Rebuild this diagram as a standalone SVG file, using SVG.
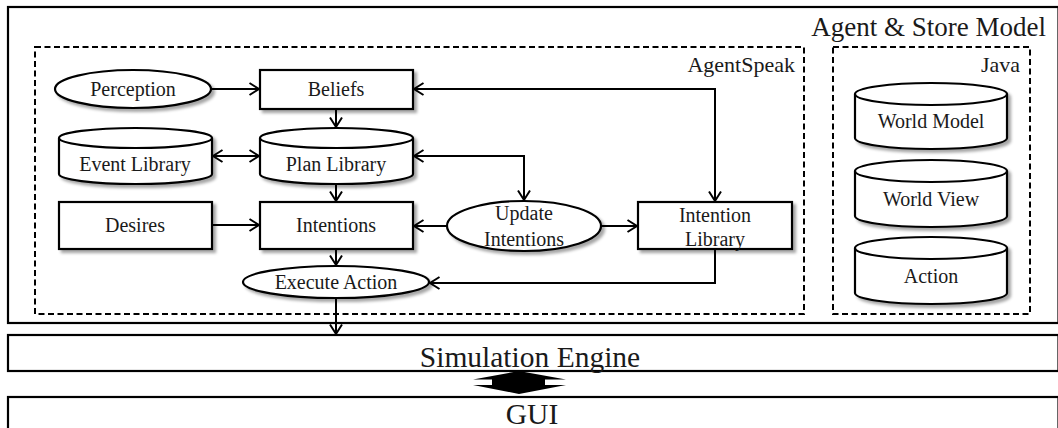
<svg xmlns="http://www.w3.org/2000/svg" width="1058" height="428" viewBox="0 0 1058 428" font-family="'Liberation Serif', 'Times New Roman', serif">
  <style>
    .box { fill: #ffffff; stroke: #000000; stroke-width: 2.2; }
    .shade { filter: url(#shadow); }
    .frame { fill: none; stroke: #000000; stroke-width: 2.2; }
    .dash { fill: none; stroke: #000000; stroke-width: 2; stroke-dasharray: 6 3.5; }
    .lbl { font-family: "Liberation Serif", "Times New Roman", serif; font-size: 20px; fill: #1a1a1a; text-anchor: middle; }
    .grp { font-family: "Liberation Serif", "Times New Roman", serif; font-size: 22px; fill: #1a1a1a; text-anchor: end; }
    .big { font-family: "Liberation Serif", "Times New Roman", serif; font-size: 29.5px; fill: #1a1a1a; text-anchor: middle; }
    .wire { fill: none; stroke: #000000; stroke-width: 2; }
  </style>
  <defs>
    <filter id="shadow" x="-10%" y="-20%" width="130%" height="150%">
      <feDropShadow dx="3" dy="3" stdDeviation="1.8" flood-color="#000000" flood-opacity="0.35"/>
    </filter>
    <marker id="arrow" markerUnits="userSpaceOnUse" markerWidth="16" markerHeight="16" refX="11" refY="7" orient="auto-start-reverse">
      <path d="M1.5,1 L11,7 L1.5,13" fill="none" stroke="#000000" stroke-width="2"/>
    </marker>
  </defs>

  <!-- outer layers -->
  <g id="agent-store-model">
    <rect class="frame" x="8" y="7" width="1050.5" height="316"/>
    <text class="grp" x="1046" y="36" style="font-size:27px">Agent &amp; Store Model</text>
  </g>
  <g id="simulation-engine">
    <rect class="frame" x="8" y="335" width="1050.5" height="36"/>
    <text class="big" x="530" y="367">Simulation Engine</text>
  </g>
  <g id="gui">
    <rect class="frame" x="8" y="397" width="1050.5" height="40"/>
    <text class="big" x="532" y="424">GUI</text>
  </g>

  <!-- dashed containers -->
  <g id="agentspeak">
    <rect class="dash" x="35" y="47" width="769" height="267"/>
    <text class="grp" x="795" y="72">AgentSpeak</text>
  </g>
  <g id="java">
    <rect class="dash" x="833" y="47" width="197" height="267"/>
    <text class="grp" x="1020" y="72">Java</text>
  </g>

  <!-- AgentSpeak nodes -->
  <g id="perception">
    <ellipse class="box shade" cx="133" cy="89" rx="78" ry="19"/>
    <text class="lbl" x="133" y="96">Perception</text>
  </g>
  <g id="beliefs">
    <rect class="box shade" x="260" y="70" width="153" height="39"/>
    <text class="lbl" x="336" y="96">Beliefs</text>
  </g>
  <g id="event-library">
    <path class="box shade" d="M59,138 V174 A76.5,10 0 0 0 212,174 V138 A76.5,10 0 0 0 59,138 Z"/>
    <path class="wire" d="M59,138 A76.5,10 0 0 0 212,138" style="stroke-width:2.2"/>
    <text class="lbl" x="135" y="171">Event Library</text>
  </g>
  <g id="plan-library">
    <path class="box shade" d="M260,138 V174 A76.5,10 0 0 0 413,174 V138 A76.5,10 0 0 0 260,138 Z"/>
    <path class="wire" d="M260,138 A76.5,10 0 0 0 413,138" style="stroke-width:2.2"/>
    <text class="lbl" x="336" y="171">Plan Library</text>
  </g>
  <g id="desires">
    <rect class="box shade" x="59" y="202" width="153" height="47"/>
    <text class="lbl" x="135" y="232">Desires</text>
  </g>
  <g id="intentions">
    <rect class="box shade" x="260" y="202" width="153" height="47"/>
    <text class="lbl" x="336" y="232">Intentions</text>
  </g>
  <g id="update-intentions">
    <ellipse class="box shade" cx="524" cy="226" rx="77" ry="25"/>
    <text class="lbl" x="524" y="220">Update</text>
    <text class="lbl" x="524" y="246">Intentions</text>
  </g>
  <g id="intention-library">
    <rect class="box shade" x="638" y="202" width="154" height="47"/>
    <text class="lbl" x="715" y="222">Intention</text>
    <text class="lbl" x="715" y="246">Library</text>
  </g>
  <g id="execute-action">
    <ellipse class="box shade" cx="336" cy="282" rx="93" ry="16"/>
    <text class="lbl" x="336" y="289">Execute Action</text>
  </g>

  <!-- Java nodes -->
  <g id="world-model">
    <path class="box shade" d="M855,94 V138 A76,11 0 0 0 1007,138 V94 A76,11 0 0 0 855,94 Z"/>
    <path class="wire" d="M855,94 A76,11 0 0 0 1007,94" style="stroke-width:2.2"/>
    <text class="lbl" x="931" y="128">World Model</text>
  </g>
  <g id="world-view">
    <path class="box shade" d="M855,171 V216 A76,11 0 0 0 1007,216 V171 A76,11 0 0 0 855,171 Z"/>
    <path class="wire" d="M855,171 A76,11 0 0 0 1007,171" style="stroke-width:2.2"/>
    <text class="lbl" x="931" y="206">World View</text>
  </g>
  <g id="action">
    <path class="box shade" d="M855,248 V293 A76,11 0 0 0 1007,293 V248 A76,11 0 0 0 855,248 Z"/>
    <path class="wire" d="M855,248 A76,11 0 0 0 1007,248" style="stroke-width:2.2"/>
    <text class="lbl" x="931" y="283">Action</text>
  </g>

  <!-- connectors -->
  <g id="connectors">
    <line class="wire" x1="211" y1="89" x2="259" y2="89" marker-end="url(#arrow)"/>
    <line class="wire" x1="336" y1="109" x2="336" y2="127" marker-end="url(#arrow)"/>
    <line class="wire" x1="213" y1="156" x2="259" y2="156" marker-start="url(#arrow)" marker-end="url(#arrow)"/>
    <path class="wire" d="M414,156 H524 V200" marker-start="url(#arrow)" marker-end="url(#arrow)"/>
    <path class="wire" d="M715,201 V89 H414" marker-start="url(#arrow)" marker-end="url(#arrow)"/>
    <line class="wire" x1="336" y1="184" x2="336" y2="201" marker-end="url(#arrow)"/>
    <line class="wire" x1="212" y1="225" x2="259" y2="225" marker-end="url(#arrow)"/>
    <line class="wire" x1="447" y1="226" x2="414" y2="226" marker-end="url(#arrow)"/>
    <line class="wire" x1="601" y1="226" x2="637" y2="226" marker-end="url(#arrow)"/>
    <line class="wire" x1="336" y1="249" x2="336" y2="265" marker-end="url(#arrow)"/>
    <path class="wire" d="M715,249 V283 H430" marker-end="url(#arrow)"/>
    <line class="wire" x1="336" y1="298" x2="336" y2="334" marker-end="url(#arrow)"/>
    <polygon points="519,371 566,379.5 545,379.5 545,385 566,385 519,394 473,385 492,385 492,379.5 473,379.5" fill="#000000"/>
  </g>
</svg>
